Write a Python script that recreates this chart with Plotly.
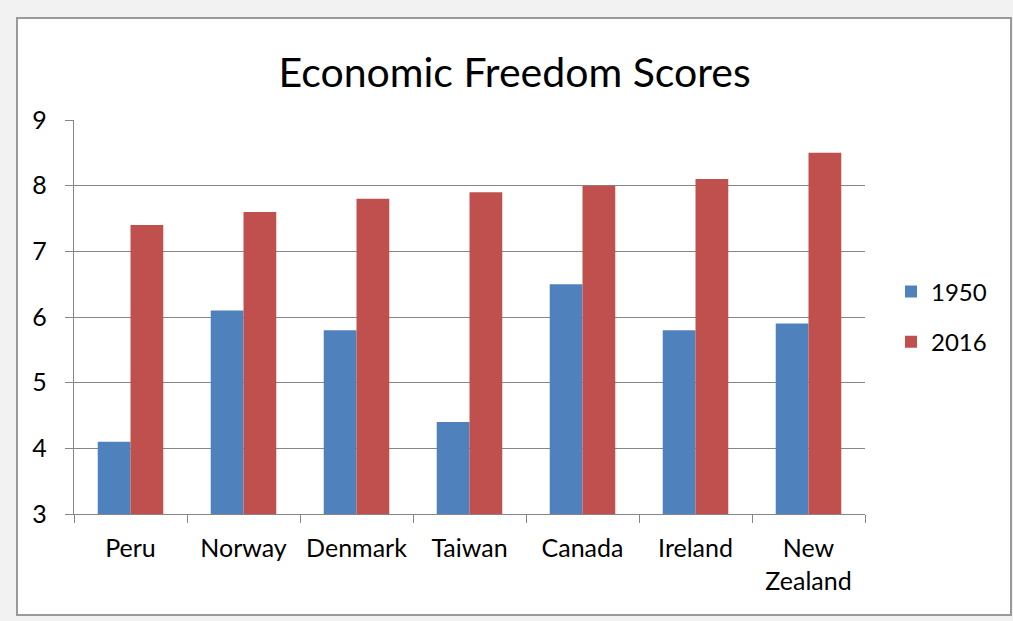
import plotly.graph_objects as go

countries = ["Peru", "Norway", "Denmark", "Taiwan", "Canada", "Ireland", "New<br>Zealand"]
scores_1950 = [4.1, 6.1, 5.8, 4.4, 6.5, 5.8, 5.9]
scores_2016 = [7.4, 7.6, 7.8, 7.9, 8.0, 8.1, 8.5]
y_ticks = [3, 4, 5, 6, 7, 8, 9]

FONT = "Lato"

fig = go.Figure()
fig.add_trace(go.Bar(name="1950", x=countries, y=scores_1950,
                     marker=dict(color="#4F81BD", line=dict(width=0)),
                     legendgroup="a"))
fig.add_trace(go.Bar(name="2016", x=countries, y=scores_2016,
                     marker=dict(color="#C0504D", line=dict(width=0)),
                     legendgroup="b"))

W, H = 1013, 621
L, R, T, B = 74, 865, 120, 514


def px_x(p):
    return (p - L) / (R - L)


def px_y(p):
    return (B - p) / (B - T)


fig.update_layout(
    width=W, height=H,
    margin=dict(l=L, r=W - R, t=T, b=H - B, pad=0, autoexpand=False),
    paper_bgcolor="#f2f2f2",
    plot_bgcolor="white",
    barmode="group",
    bargap=0.42,
    bargroupgap=0,
    font=dict(family=FONT, size=25, color="#000000"),
    title=dict(text="Economic Freedom Scores", x=0.508, xref="container",
               y=1 - 73 / H, yref="container", xanchor="center", yanchor="middle",
               font=dict(family=FONT, size=41, color="#000000")),
    legend=dict(x=px_x(891), xanchor="left", y=0.5, yanchor="middle",
                font=dict(family=FONT, size=24), tracegroupgap=16,
                traceorder="grouped", bgcolor="rgba(0,0,0,0)"),
    xaxis=dict(showline=True, linecolor="#868686", linewidth=1.3,
               ticks="outside", tickson="boundaries", ticklen=8,
               tickcolor="#868686", showgrid=False, ticklabelstandoff=12,
               tickangle=0, automargin=False),
    yaxis=dict(range=[3, 9], tickvals=y_ticks, showline=True, linecolor="#868686",
               linewidth=1.3, ticks="outside", ticklen=8, tickcolor="#868686",
               showgrid=True, gridcolor="#868686", gridwidth=1.3,
               zeroline=False, ticklabelstandoff=13, automargin=False),
    shapes=[
        dict(type="rect", xref="paper", yref="paper", layer="below",
             x0=px_x(17), x1=px_x(1011), y0=px_y(18), y1=px_y(615),
             fillcolor="white", line=dict(color="#9a9a9a", width=2)),
    ],
)

fig.write_html("out.html", config={"displayModeBar": False},
               post_script="document.body.style.margin='0';")
